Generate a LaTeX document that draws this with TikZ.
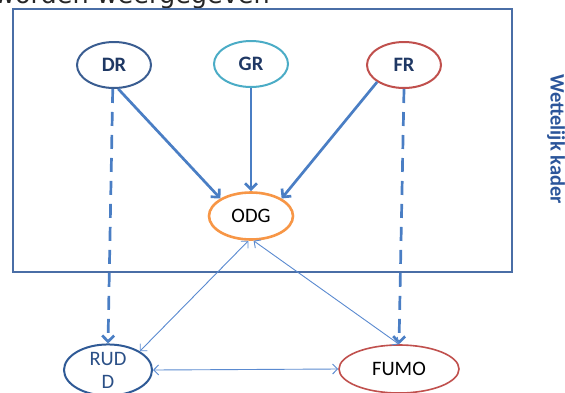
\documentclass[tikz,border=0pt]{standalone}
\usepackage{fontspec}
\setmainfont{Carlito}
\newfontfamily\topfont{DejaVu Sans}
\usetikzlibrary{shapes.geometric,arrows.meta}
\definecolor{linkblue}{HTML}{4A7EC4}
\definecolor{thinblue}{HTML}{5A8AD0}
\definecolor{boxblue}{HTML}{4A6EA6}
\definecolor{navy}{HTML}{1F3864}
\definecolor{drblue}{HTML}{3A5D91}
\definecolor{grcyan}{HTML}{4BACC6}
\definecolor{frred}{HTML}{C0504D}
\definecolor{odgorange}{HTML}{F79646}
\definecolor{ruddblue}{HTML}{2F5A96}
\definecolor{ruddtext}{HTML}{2A4F86}
\definecolor{kader}{HTML}{2B559A}
\tikzset{
  bubble/.style={ellipse, draw, line width=2pt, inner sep=0pt, minimum width=74pt, minimum height=46pt, font=\fontsize{20.5}{23}\selectfont},
  toplabel/.style={bubble, text=navy, font=\fontsize{20.5}{23}\selectfont\bfseries},
  mainarrow/.style={draw=linkblue, line width=2.7pt, -{Straight Barb[length=6pt,width=12pt]}},
  dasharrow/.style={mainarrow, dash pattern=on 14pt off 9pt},
  thinarrow/.style={draw=thinblue, line width=0.9pt, {Straight Barb[length=5pt,width=10pt]}-{Straight Barb[length=5pt,width=10pt]}}
}
\begin{document}
\begin{tikzpicture}[x=1pt,y=-1pt]
\useasboundingbox (0,0) rectangle (565,392);
\clip (0,0) rectangle (565,392);
\node[anchor=base west, inner sep=0pt, font=\topfont\fontsize{25.5}{28}\selectfont, text=black!85] (intro) at (-6,3) {worden weergegeven};
\node[draw=boxblue, line width=1.6pt, minimum width=499pt, minimum height=263pt, inner sep=0pt, anchor=north west] (kaderbox) at (12,8) {};
\node[rotate=-90, text=kader, font=\fontsize{20.5}{23}\selectfont\bfseries, inner sep=0pt] (kadertext) at (556,139) {Wettelijk kader};
\node[toplabel, draw=drblue] (DR) at (114,65) {DR};
\node[toplabel, draw=grcyan] (GR) at (251,64) {GR};
\node[toplabel, draw=frred] (FR) at (404,65) {FR};
\node[bubble, draw=odgorange, line width=2.6pt, minimum width=84pt, minimum height=47pt] (ODG) at (251,216) {ODG};
\node[bubble, draw=ruddblue, minimum width=88pt, minimum height=48pt, text=ruddtext, align=center] (RUDD) at (108,370) {RUD\\D};
\node[bubble, draw=frred, line width=1.6pt, minimum width=120pt, minimum height=48pt] (FUMO) at (399,369) {FUMO};
\draw[mainarrow] (DR.-80) -- (ODG.north west);
\draw[mainarrow] (GR.south) -- (ODG.north);
\draw[mainarrow] (FR.south west) -- (ODG.north east);
\draw[dasharrow] (DR.-93) -- (RUDD.north);
\draw[dasharrow] (FR.south) -- (FUMO.north);
\draw[thinarrow] (ODG.-96) -- (RUDD.north east);
\draw[thinarrow] (ODG.-84) -- (FUMO.north);
\draw[thinarrow] (RUDD.east) -- (FUMO.west);
\end{tikzpicture}
\end{document}
